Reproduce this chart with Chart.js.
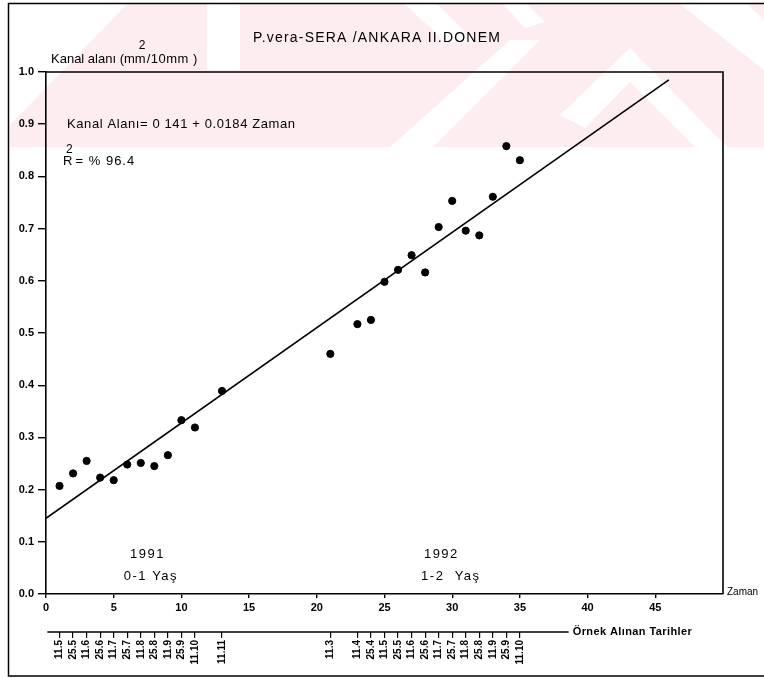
<!DOCTYPE html>
<html>
<head>
<meta charset="utf-8">
<script src="https://cdn.jsdelivr.net/npm/chart.js@4/dist/chart.umd.min.js"></script>
<style>
  html,body{margin:0;padding:0;background:#fff;}
  #wrap{width:764px;height:678px;}
</style>
</head>
<body>
<div id="wrap"><canvas id="c" width="764" height="678"></canvas></div>
<script>
// ---- data ----
const zaman = [1,2,3,4,5,6,7,8,9,10,11,13,21,23,24,25,26,27,28,29,30,31,32,33,34,35];
const kanalAlani = [0.207,0.231,0.255,0.223,0.218,0.248,0.251,0.245,0.266,0.333,0.319,0.389,
                    0.460,0.517,0.525,0.598,0.621,0.649,0.616,0.703,0.753,0.696,0.687,0.761,0.858,0.831];
const tarihler = ["11.5","25.5","11.6","25.6","11.7","25.7","11.8","25.8","11.9","25.9","11.10","11.11",
                  "11.3","11.4","25.4","11.5","25.5","11.6","25.6","11.7","25.7","11.8","25.8","11.9","25.9","11.10"];
const regX = [0, 46];
const regY = [0.145, 0.985];
const xTicks = [0,5,10,15,20,25,30,35,40,45];
const yTicks = [0,0.1,0.2,0.3,0.4,0.5,0.6,0.7,0.8,0.9,1.0];

const FONT = "'Liberation Sans', Arial, sans-serif";

function txt(ctx, s, x, y, size, spacing, weight) {
  ctx.font = (weight ? weight + ' ' : '') + size + 'px ' + FONT;
  ctx.letterSpacing = (spacing || 0) + 'px';
  ctx.fillText(s, x, y);
  const w = ctx.measureText(s).width;
  ctx.letterSpacing = '0px';
  return w;
}

const decor = {
  id: 'decor',
  beforeDraw(chart) {
    const ctx = chart.ctx;
    ctx.save();
    ctx.fillStyle = '#fff';
    ctx.fillRect(0,0,chart.width,chart.height);
    // faint pink watermark band (background decoration of the scanned page)
    ctx.beginPath();
    ctx.moveTo(127, 4); ctx.lineTo(chart.width, 4); ctx.lineTo(chart.width, 147);
    ctx.lineTo(10, 147); ctx.lineTo(10, 125);
    ctx.closePath();
    ctx.clip();
    ctx.fillStyle = '#fdedf0';
    ctx.fillRect(0, 0, chart.width, 150);
    ctx.fillStyle = '#ffffff';
    const polys = [
      [[207,4],[240,4],[240,70],[207,70]].map(p=>p),
      [[560,115],[630,48],[727,147],[695,147],[630,82],[585,128]],
      [[680,4],[747,4],[764,20],[764,70]],
      [[390,147],[433,147],[540,40],[510,40]],
      [[405,4],[437,4],[475,42],[445,42]],
      [[503,4],[527,4],[545,22],[525,28]]
    ];
    polys.forEach(pts => {
      ctx.beginPath();
      pts.forEach((p,i)=> i ? ctx.lineTo(p[0],p[1]) : ctx.moveTo(p[0],p[1]));
      ctx.closePath();
      ctx.fill();
    });
    ctx.restore();
  },
  afterDraw(chart) {
    const ctx = chart.ctx;
    const ca = chart.chartArea;
    const xs = chart.scales.x, ys = chart.scales.y, x2 = chart.scales.x2;
    ctx.save();
    ctx.strokeStyle = '#000';
    ctx.fillStyle = '#000';
    // outer frame
    ctx.lineWidth = 1.5;
    ctx.beginPath();
    ctx.moveTo(chart.width + 5, 3.5);
    ctx.lineTo(8.5, 3.5);
    ctx.lineTo(8.5, 676);
    ctx.lineTo(chart.width + 5, 676);
    ctx.stroke();
    // plot box (top and right sides)
    ctx.lineWidth = 1.6;
    ctx.beginPath();
    ctx.moveTo(ca.left, ca.top);
    ctx.lineTo(ca.right, ca.top);
    ctx.lineTo(ca.right, ca.bottom);
    ctx.stroke();
    // date axis line (partial)
    ctx.lineWidth = 1.4;
    ctx.beginPath();
    ctx.moveTo(x2.getPixelForValue(0.1), x2.top);
    ctx.lineTo(x2.getPixelForValue(38.6), x2.top);
    ctx.stroke();

    ctx.textBaseline = 'middle';
    // title
    ctx.textAlign = 'center';
    txt(ctx, 'P.vera-SERA /ANKARA II.DONEM', 377, 38, 14, 1.2);
    // y axis title with superscript
    ctx.textAlign = 'left';
    ctx.textBaseline = 'alphabetic';
    const w1 = txt(ctx, 'Kanal alanı (mm', 51, 63, 13, 0);
    txt(ctx, '2', 51 + w1 - 7, 49, 12, 0);
    txt(ctx, '/10mm )', 51 + w1 + 1, 63, 13, 0.5);

    // equation
    txt(ctx, 'Kanal Alanı= 0 141 + 0.0184 Zaman', xs.getPixelForValue(1.55), ys.getPixelForValue(0.9) + 4, 13, 0.6);
    const rx = xs.getPixelForValue(1.25), ry = ys.getPixelForValue(0.83) + 4;
    txt(ctx, 'R', rx, ry, 13, 0);
    txt(ctx, '2', rx + 3, ry - 12, 12, 0);
    txt(ctx, ' = % 96.4', rx + 8, ry, 13, 1);

    // period labels
    ctx.textAlign = 'center';
    ctx.textBaseline = 'middle';
    txt(ctx, '1991', xs.getPixelForValue(7.5), ys.getPixelForValue(0.075), 13, 1.5);
    txt(ctx, '0-1 Yaş', xs.getPixelForValue(7.75), ys.getPixelForValue(0.034), 13, 1.5);
    txt(ctx, '1992', xs.getPixelForValue(29.2), ys.getPixelForValue(0.075), 13, 1.5);
    txt(ctx, '1-2  Yaş', xs.getPixelForValue(29.9), ys.getPixelForValue(0.034), 13, 1.5);

    // axis names
    ctx.textAlign = 'left';
    txt(ctx, 'Zaman', ca.right + 4, ca.bottom - 2, 10, 0);
    txt(ctx, 'Örnek Alınan Tarihler', x2.getPixelForValue(38.9), x2.top, 11, 0.4, 'bold');
    ctx.restore();
  }
};

new Chart(document.getElementById('c'), {
  type: 'scatter',
  data: {
    datasets: [
      {
        type: 'line',
        data: regX.map((x,i)=>({x, y: regY[i]})),
        borderColor: '#000',
        borderWidth: 1.6,
        pointRadius: 0,
        fill: false,
        xAxisID: 'x', yAxisID: 'y'
      },
      {
        data: zaman.map((x,i)=>({x, y: kanalAlani[i]})),
        backgroundColor: '#000',
        borderColor: '#000',
        pointRadius: 3.6,
        pointHoverRadius: 3.6,
        xAxisID: 'x', yAxisID: 'y'
      }
    ]
  },
  options: {
    responsive: false,
    animation: false,
    events: [],
    layout: { padding: { left: 8, right: 41, top: 72, bottom: 0 } },
    plugins: { legend: { display: false }, tooltip: { enabled: false }, title: { display: false } },
    scales: {
      x: {
        type: 'linear', position: 'bottom', min: 0, max: 50,
        afterBuildTicks: s => { s.ticks = xTicks.map(v => ({ value: v })); },
        afterFit: s => { s.height = 38; },
        grid: { display: true, drawOnChartArea: false, drawTicks: true, tickLength: 4, color: '#000', lineWidth: 1.4 },
        border: { display: true, color: '#000', width: 1.6 },
        ticks: { color: '#000', font: { family: FONT, size: 11, weight: 'bold' }, padding: 3, maxRotation: 0, autoSkip: false,
                 callback: v => String(v) }
      },
      x2: {
        type: 'linear', position: 'bottom', min: 0, max: 50,
        afterBuildTicks: s => { s.ticks = zaman.map(v => ({ value: v })); },
        afterFit: s => { s.height = 46; },
        grid: { display: true, drawOnChartArea: false, drawTicks: true, tickLength: 6, color: '#000', lineWidth: 1.2 },
        border: { display: false },
        ticks: { color: '#000', font: { family: FONT, size: 10, weight: 'bold' }, padding: 2,
                 minRotation: 90, maxRotation: 90, autoSkip: false,
                 callback: (v, i) => tarihler[i] }
      },
      y: {
        type: 'linear', min: 0, max: 1,
        afterBuildTicks: s => { s.ticks = yTicks.map(v => ({ value: v })); },
        afterFit: s => { s.width = 38; },
        grid: { display: true, drawOnChartArea: false, drawTicks: true, tickLength: 8, color: '#000', lineWidth: 1.4 },
        border: { display: true, color: '#000', width: 1.6 },
        ticks: { color: '#000', font: { family: FONT, size: 11, weight: 'bold' }, padding: 4,
                 callback: v => v.toFixed(1) }
      }
    }
  },
  plugins: [decor]
});
</script>
</body>
</html>
